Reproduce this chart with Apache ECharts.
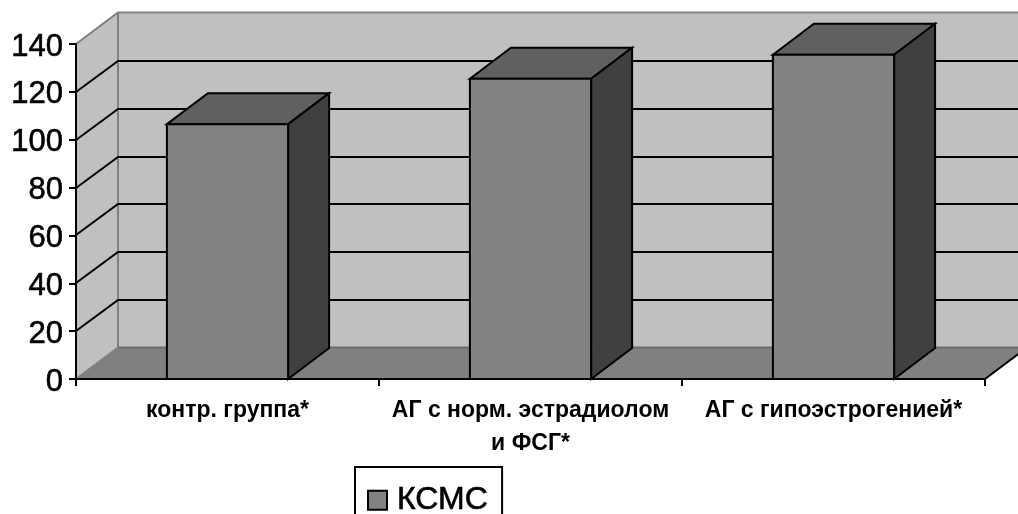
<!DOCTYPE html>
<html>
<head>
<meta charset="utf-8">
<style>
  html, body { margin: 0; padding: 0; background: #fff; overflow: hidden; }
  #chart { width: 1018px; height: 514px; }
</style>
<script src="https://cdn.jsdelivr.net/npm/echarts@6/dist/echarts.min.js"></script>
</head>
<body>
<div id="chart"></div>
<script>
const seriesName = 'КСМС';
const categories = ['контр. группа*', 'АГ с норм. эстрадиолом\nи ФСГ*', 'АГ с гипоэстрогенией*'];
const values = [106.5, 125.5, 135.5];
const innerGridValues = [20, 40, 60, 80, 100, 120];

// Oblique projection used for the pseudo-3D box
const DEPTH_X = 42;
const DEPTH_Y = -31.5;
const BAR_DEPTH_X = 41;
const BAR_DEPTH_Y = -31;
const BAR_SHARE = 0.4;
const FONT = '"Liberation Sans", Arial, sans-serif';

const INK = '#000';
const WALL = '#c0c0c0';
const WALL_EDGE = '#808080';
const FLOOR_EDGE = '#6c6c6c';
const FLOOR = '#808080';
const BAR_FRONT = '#828282';
const BAR_TOP = '#606060';
const BAR_SIDE = '#404040';

function poly(points, fill, stroke, lineWidth) {
  return {
    type: 'polygon',
    shape: { points },
    style: { fill, stroke: stroke || null, lineWidth: lineWidth || 0, lineJoin: 'miter' }
  };
}

function line(points, stroke, lineWidth) {
  return {
    type: 'polyline',
    shape: { points },
    style: { fill: null, stroke, lineWidth, lineJoin: 'miter' }
  };
}

// Side wall, back wall and floor of the box
function renderRoom(params, api) {
  const g = params.coordSys;
  const left = g.x, right = g.x + g.width, top = g.y, bottom = g.y + g.height;
  const back = (p) => [p[0] + DEPTH_X, p[1] + DEPTH_Y];
  return {
    type: 'group',
    children: [
      poly([[left, bottom], back([left, bottom]), back([right, bottom]), [right, bottom]], FLOOR),
      poly([back([left, top]), back([right, top]), back([right, bottom]), back([left, bottom])], WALL),
      poly([[left, top], back([left, top]), back([left, bottom]), [left, bottom]], WALL),
      line([[left, top], back([left, top]), back([right, top])], WALL_EDGE, 2),
      line([back([left, top]), back([left, bottom])], WALL_EDGE, 2),
      line([back([left, bottom]), back([right, bottom])], FLOOR_EDGE, 2),
      line([[left, bottom], back([left, bottom])], WALL_EDGE, 2),
      line([[right, bottom], back([right, bottom])], INK, 2)
    ]
  };
}

// A gridline runs up the side wall and then across the back wall;
// its height is snapped to whole pixels so every line keeps the same weight
function renderGridLine(params, api) {
  const g = params.coordSys;
  const y = Math.round(api.coord([0, api.value(1)])[1]);
  const yBack = Math.round(y + DEPTH_Y);
  return line(
    [[g.x, y], [g.x + DEPTH_X, yBack], [g.x + g.width + DEPTH_X, yBack]],
    INK, 2
  );
}

function renderBar(params, api) {
  const idx = api.value(0);
  const top = api.coord([idx, api.value(1)]);
  const base = api.coord([idx, 0]);
  const half = api.size([1, 0])[0] * BAR_SHARE / 2;
  const x0 = top[0] - half, x1 = top[0] + half;
  const yT = top[1], yB = base[1];
  const dx = BAR_DEPTH_X, dy = BAR_DEPTH_Y;
  return {
    type: 'group',
    children: [
      poly([[x0, yT], [x0 + dx, yT + dy], [x1 + dx, yT + dy], [x1, yT]], BAR_TOP, INK, 2),
      poly([[x1, yB], [x1 + dx, yB + dy], [x1 + dx, yT + dy], [x1, yT]], BAR_SIDE, INK, 2),
      poly([[x0, yB], [x1, yB], [x1, yT], [x0, yT]], BAR_FRONT, INK, 2)
    ]
  };
}

const chart = echarts.init(document.getElementById('chart'), null, { renderer: 'canvas' });
chart.setOption({
  animation: false,
  backgroundColor: '#fff',
  textStyle: { fontFamily: FONT, color: INK },
  grid: { left: 76, width: 909, top: 44, height: 335, containLabel: false },
  xAxis: {
    type: 'category',
    data: categories,
    z: 10,
    axisLine: { show: true, lineStyle: { color: INK, width: 2 } },
    axisTick: { show: true, length: 7, lineStyle: { color: INK, width: 2 }, alignWithLabel: false },
    splitLine: { show: false },
    axisLabel: {
      interval: 0,
      margin: 15,
      fontFamily: FONT,
      fontSize: 23,
      fontWeight: 'bold',
      color: INK,
      lineHeight: 33
    }
  },
  yAxis: {
    type: 'value',
    min: 0,
    max: 140,
    interval: 20,
    z: 10,
    axisLine: { show: true, lineStyle: { color: INK, width: 2 } },
    axisTick: { show: true, length: 7, lineStyle: { color: INK, width: 2 } },
    splitLine: { show: false },
    axisLabel: {
      margin: 13,
      fontFamily: FONT,
      fontSize: 31,
      color: INK,
      textBorderColor: INK,
      textBorderWidth: 0.6,
      verticalAlign: 'top',
      lineHeight: 6
    }
  },
  legend: {
    data: [{ name: seriesName, icon: 'rect' }],
    left: 355,
    top: 467,
    padding: [17, 14, 40, 12],
    borderColor: INK,
    borderWidth: 2,
    backgroundColor: '#fff',
    itemWidth: 19,
    itemHeight: 19,
    itemStyle: { color: BAR_FRONT, borderColor: INK, borderWidth: 2 },
    textStyle: {
      fontFamily: FONT,
      fontSize: 32,
      color: INK,
      textBorderColor: INK,
      textBorderWidth: 0.6,
      padding: [0, 0, 0, 5]
    }
  },
  series: [
    {
      type: 'custom',
      name: 'room',
      z: 1,
      silent: true,
      data: [[0, 0]],
      renderItem: renderRoom
    },
    {
      type: 'custom',
      name: 'gridlines',
      z: 2,
      silent: true,
      data: innerGridValues.map((v) => [0, v]),
      renderItem: renderGridLine
    },
    {
      type: 'custom',
      name: seriesName,
      z: 3,
      itemStyle: { color: BAR_FRONT },
      encode: { x: 0, y: 1 },
      data: values.map((v, i) => [i, v]),
      renderItem: renderBar
    }
  ]
});
</script>
</body>
</html>
